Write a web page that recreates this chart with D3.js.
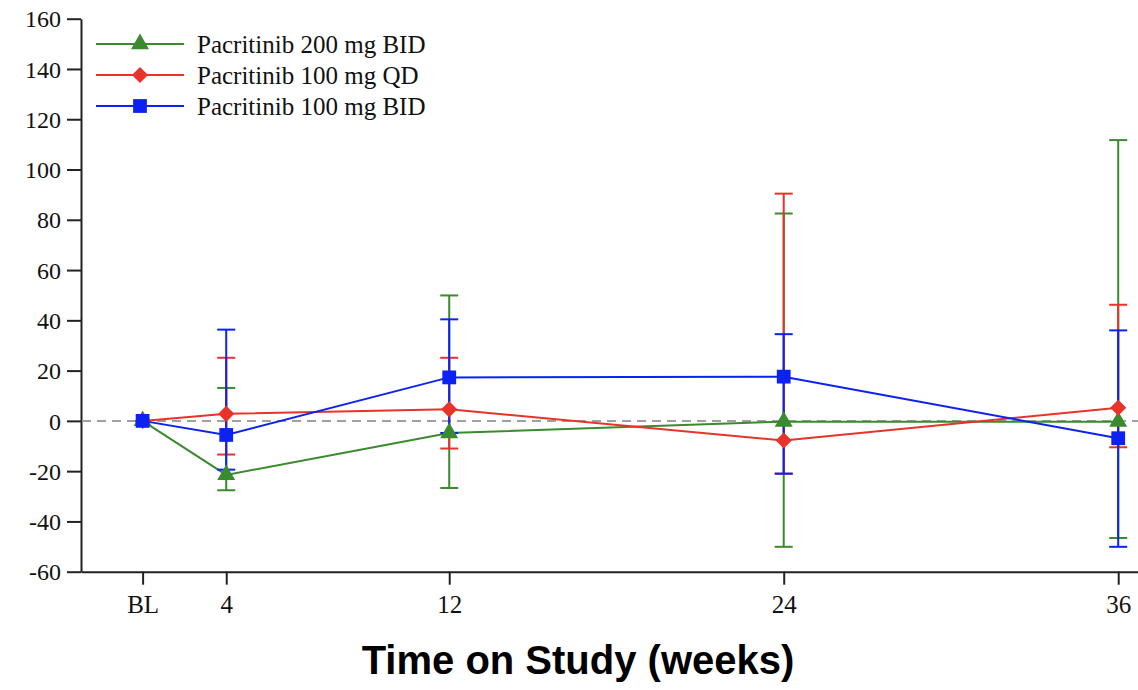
<!DOCTYPE html>
<html>
<head>
<meta charset="utf-8">
<script src="https://cdn.jsdelivr.net/npm/d3@7"></script>
<style>
  body { margin: 0; background: #fff; }
  svg { display: block; }
</style>
</head>
<body>
<svg id="chart" width="1138" height="690"></svg>
<script>
// time points (BL plotted at week 1)
const weeks = [1, 4, 12, 24, 36];
const weekLabels = ['BL', '4', '12', '24', '36'];
const yTicks = [-60, -40, -20, 0, 20, 40, 60, 80, 100, 120, 140, 160];

const seriesNames = ['Pacritinib 200 mg BID', 'Pacritinib 100 mg QD', 'Pacritinib 100 mg BID'];
const seriesColors = ['#3a8a2e', '#e8322a', '#0b22f2'];
const seriesSymbols = [d3.symbolTriangle, d3.symbolSquare, d3.symbolSquare];
const seriesRotate = [0, 45, 0];

// median change from baseline, and error bar ends
const mean200BID = [0, -21.5, -4.8, -0.3, -0.3];
const low200BID = [0, -27.6, -26.7, -50.1, -46.6];
const high200BID = [0, 13.1, 49.9, 82.5, 111.7];

const mean100QD = [0, 2.8, 4.6, -7.8, 5.2];
const low100QD = [0, -13.4, -11.0, -21.0, -10.5];
const high100QD = [0, 25.1, 25.1, 90.4, 46.2];

const mean100BID = [0, -5.6, 17.3, 17.6, -6.9];
const low100BID = [0, -19.4, -4.8, -21.0, -50.1];
const high100BID = [0, 36.3, 40.4, 34.5, 36.0];

const means = [mean200BID, mean100QD, mean100BID];
const lows = [low200BID, low100QD, low100BID];
const highs = [high200BID, high100QD, high100BID];

const svg = d3.select('#chart');

const x = d3.scaleLinear().domain([-1.21, 36.71]).range([81, 1138]);
const y = d3.scaleLinear().domain([-60, 160]).range([571.7, 18.7]);

const serif = '"Liberation Serif", "Times New Roman", serif';

// y axis
const yAxis = svg.append('g')
    .attr('transform', 'translate(81,0)')
    .attr('font-family', serif)
    .call(d3.axisLeft(y).tickValues(yTicks).tickFormat(d => String(d))
        .tickSize(14).tickPadding(6).tickSizeOuter(0));
yAxis.select('.domain').attr('stroke', '#222').attr('stroke-width', 2);
yAxis.selectAll('.tick line').attr('stroke', '#222').attr('stroke-width', 2);
yAxis.selectAll('.tick text')
    .attr('font-family', serif)
    .attr('font-size', 24)
    .attr('fill', '#111')
    .attr('dy', '0.34em');

// x axis
const xAxis = svg.append('g')
    .attr('transform', 'translate(0,571.7)')
    .call(d3.axisBottom(x).tickValues(weeks).tickFormat((d, i) => weekLabels[i])
        .tickSize(13).tickPadding(11).tickSizeOuter(0));
xAxis.select('.domain').attr('stroke', '#222').attr('stroke-width', 2);
xAxis.selectAll('.tick line').attr('stroke', '#222').attr('stroke-width', 2);
xAxis.selectAll('.tick text')
    .attr('font-family', serif)
    .attr('font-size', 25)
    .attr('fill', '#111');

// zero reference line
svg.append('line')
    .attr('x1', 82).attr('x2', 1138)
    .attr('y1', y(0)).attr('y2', y(0))
    .attr('stroke', '#a0a0a0')
    .attr('stroke-width', 2)
    .attr('stroke-dasharray', '9,6');

// error bars and lines
const line = d3.line().x(d => x(d[0])).y(d => y(d[1]));
const capHalf = 9;

seriesNames.forEach((name, s) => {
    const g = svg.append('g');
    const color = seriesColors[s];
    weeks.forEach((w, i) => {
        if (lows[s][i] === highs[s][i]) return;
        g.append('line')
            .attr('x1', x(w)).attr('x2', x(w))
            .attr('y1', y(lows[s][i])).attr('y2', y(highs[s][i]))
            .attr('stroke', color).attr('stroke-width', 2);
        [lows[s][i], highs[s][i]].forEach(v => {
            g.append('line')
                .attr('x1', x(w) - capHalf).attr('x2', x(w) + capHalf)
                .attr('y1', y(v)).attr('y2', y(v))
                .attr('stroke', color).attr('stroke-width', 2);
        });
    });
    g.append('path')
        .datum(weeks.map((w, i) => [w, means[s][i]]))
        .attr('d', line)
        .attr('fill', 'none')
        .attr('stroke', color)
        .attr('stroke-width', 2);
});

// markers
const symbolSizes = [140, 130, 190];
seriesNames.forEach((name, s) => {
    svg.append('g').selectAll('path')
        .data(weeks.map((w, i) => [w, means[s][i]]))
        .enter().append('path')
        .attr('transform', d => `translate(${x(d[0])},${y(d[1])}) rotate(${seriesRotate[s]})`)
        .attr('d', d3.symbol().type(seriesSymbols[s]).size(symbolSizes[s]))
        .attr('fill', seriesColors[s]);
});

// legend
const legend = svg.append('g');
seriesNames.forEach((name, s) => {
    const ly = 44 + s * 31;
    legend.append('line')
        .attr('x1', 96).attr('x2', 184)
        .attr('y1', ly).attr('y2', ly)
        .attr('stroke', seriesColors[s]).attr('stroke-width', 2);
    legend.append('path')
        .attr('transform', `translate(140,${ly}) rotate(${seriesRotate[s]})`)
        .attr('d', d3.symbol().type(seriesSymbols[s]).size(symbolSizes[s]))
        .attr('fill', seriesColors[s]);
    legend.append('text')
        .attr('x', 197).attr('y', ly)
        .attr('dy', '0.35em')
        .attr('font-family', serif)
        .attr('font-size', 25)
        .attr('fill', '#111')
        .text(name);
});

// axis title
svg.append('text')
    .attr('x', 578).attr('y', 674)
    .attr('text-anchor', 'middle')
    .attr('font-family', '"Liberation Sans", Arial, sans-serif')
    .attr('font-weight', 'bold')
    .attr('font-size', 40)
    .attr('fill', '#000')
    .text('Time on Study (weeks)');
</script>
</body>
</html>
